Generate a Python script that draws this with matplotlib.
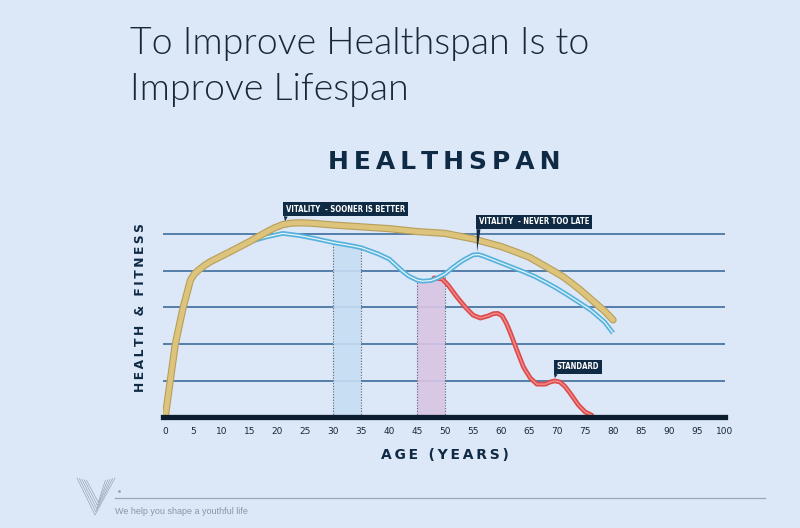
import numpy as np
import matplotlib
matplotlib.use("Agg")
import matplotlib.pyplot as plt

# --- data (age in years, health & fitness level) ---
ages_optimal = [0, 1.8, 3.2, 4.5, 5.2, 6, 7, 8, 11.5, 15, 18, 19.5, 21, 22.5,
                24, 26, 30, 35, 40, 45, 50, 55, 60, 62.5, 65, 68, 71, 72.5,
                74, 75.5, 77, 78.5, 80]
health_optimal = [0, 2.0, 3.0, 3.75, 3.92, 4.03, 4.15, 4.25, 4.52, 4.8, 5.06,
                  5.18, 5.27, 5.31, 5.32, 5.31, 5.26, 5.21, 5.16, 5.08, 5.03,
                  4.88, 4.67, 4.53, 4.38, 4.12, 3.85, 3.68, 3.5, 3.3, 3.1, 2.9,
                  2.66]

ages_vitality = [15, 18, 21, 24, 27, 30, 33, 35, 38, 40, 42.5, 43.5, 45, 46,
                 47.5, 48.5, 50, 51, 52.5, 53.5, 55, 56, 57, 58, 60, 62, 64,
                 66, 68, 70, 72, 74, 76, 77, 78.5, 80]
health_vitality = [4.8, 4.93, 5.03, 4.97, 4.88, 4.78, 4.70, 4.64, 4.47, 4.33,
                   3.98, 3.86, 3.75, 3.72, 3.74, 3.8, 3.92, 4.05, 4.22, 4.32,
                   4.44, 4.45, 4.4, 4.34, 4.22, 4.1, 3.98, 3.85, 3.69, 3.52,
                   3.33, 3.13, 2.93, 2.8, 2.6, 2.3]

ages_standard = [48, 49.5, 50.5, 52.1, 53.6, 55, 56.3, 57.7, 58.6, 59.4, 60.2,
                 60.9, 61.6, 62.8, 64, 65.2, 66.4, 67.9, 68.8, 69.6, 70.5,
                 71.4, 72.3, 73.8, 75, 76.2]
health_standard = [3.81, 3.78, 3.62, 3.29, 3.01, 2.79, 2.71, 2.77, 2.83, 2.84,
                   2.77, 2.58, 2.33, 1.84, 1.37, 1.07, 0.9, 0.9, 0.96, 0.99,
                   0.96, 0.84, 0.66, 0.33, 0.14, 0.05]

x_ticks = list(range(0, 101, 5))
grid_levels = [1, 2, 3, 4, 5]
window_early = (30, 35)
window_late = (45, 50)

NAVY = "#0f2a44"
TEXT = "#18283a"
BG = "#dce8f7"


def spaced(s, sep="\u2009"):
    return sep.join(s)


fig = plt.figure(figsize=(8, 5.28), dpi=100, facecolor=BG)
ax = fig.add_axes([0.20375, 0.2102, 0.7025, 0.401])
ax.set_facecolor("none")
ax.set_xlim(-0.4, 100)
ax.set_ylim(0, 5.8)

# grid
for lvl in grid_levels:
    ax.axhline(lvl, color="#3d6d9c", lw=1.2, zorder=1)

for s in ax.spines.values():
    s.set_visible(False)
ax.axhline(0, color="#0d1d30", lw=3.8, zorder=6, clip_on=False)

ax.set_yticks([])
ax.set_xticks(x_ticks)
ax.tick_params(axis="x", length=0, pad=7, labelsize=6.5, labelcolor=TEXT)

# shaded windows under the vitality curve
ages_v = np.array(ages_vitality)
health_v = np.array(health_vitality)
for (a0, a1), fc in [(window_early, "#c6ddf3"), (window_late, "#d9c5e4")]:
    m = (ages_v >= a0) & (ages_v <= a1)
    ax.fill_between(ages_v[m], 0, health_v[m], facecolor=fc, edgecolor="none",
                    alpha=0.9, zorder=2)
    dot = dict(color="#5a6478", lw=0.8, ls=(0, (1, 1.5)), zorder=3)
    ax.plot([a0, a0], [0, health_v[m][0]], **dot)
    ax.plot([a1, a1], [0, health_v[m][-1]], **dot)
    ax.plot(ages_v[m], health_v[m] - 0.03, **dot)

# curves
ax.plot(ages_standard, health_standard, color="#dd4a4c", lw=3.4,
        solid_capstyle="round", solid_joinstyle="round", zorder=4)
ax.plot(ages_standard, health_standard, color="#f28d8b", lw=1.0,
        solid_joinstyle="round", zorder=4)

ax.plot(ages_vitality, health_vitality, color="#56b2dc", lw=3.4,
        solid_capstyle="butt", solid_joinstyle="round", zorder=4)
ax.plot(ages_vitality, health_vitality, color="#e6f5fb", lw=0.9,
        solid_joinstyle="round", zorder=4)

ax.plot(ages_optimal, health_optimal, color="#b89e5a", lw=5.2,
        solid_capstyle="round", solid_joinstyle="round", zorder=5)
ax.plot(ages_optimal, health_optimal, color="#dcc47c", lw=3.6,
        solid_capstyle="round", solid_joinstyle="round", zorder=5)

# callouts
callouts = [
    ("VITALITY  - SOONER IS BETTER", ages_optimal, health_optimal, 21.4, 21.6, 5.57),
    ("VITALITY  - NEVER TOO LATE", ages_vitality, health_vitality, 55.7, 56.0, 5.22),
    ("STANDARD", ages_standard, health_standard, 69.6, 69.9, 1.25),
]
for label, xs, ys, a_pt, a_txt, y_txt in callouts:
    y_pt = np.interp(a_pt, xs, ys) + 0.08
    ax.annotate(label, xy=(a_pt, y_pt), xytext=(a_txt, y_txt),
                textcoords="data", ha="left", va="bottom", fontsize=5.6,
                fontweight="bold", color="white", fontstretch="condensed",
                bbox=dict(boxstyle="square,pad=0.35", fc=NAVY, ec="none"),
                arrowprops=dict(arrowstyle="wedge,tail_width=0.5,shrink_factor=0.5",
                                fc=NAVY, ec="none", relpos=(0.0, 0.0),
                                shrinkA=0, shrinkB=0),
                annotation_clip=False, zorder=8)

# titles and labels
fig.text(130 / 800, 1 - 27 / 528, "To Improve Healthspan Is to\nImprove Lifespan",
         ha="left", va="top", fontsize=27, color=TEXT, family="Lato",
         weight=300, linespacing=1.45)
fig.text(444 / 800, 1 - 162 / 528, spaced("HEALTHSPAN"), ha="center",
         va="center", fontsize=18, fontweight="bold", color=NAVY)
fig.text(445 / 800, 1 - 455 / 528, spaced("AGE (YEARS)"), ha="center",
         va="center", fontsize=10, fontweight="bold", color=NAVY)
fig.text(141 / 800, 1 - 308 / 528, spaced("HEALTH & FITNESS"), ha="center",
         va="center", rotation=90, fontsize=8.8, fontweight="bold", color=NAVY)

# footer: logo, rule and tagline (pixel coordinates)
ov = fig.add_axes([0, 0, 1, 1], zorder=-1)
ov.set_xlim(0, 800)
ov.set_ylim(528, 0)
ov.axis("off")
ov.plot([115, 765], [498, 498], color="#98a6b6", lw=0.9)
ov.plot([119], [491], marker="o", ms=1, color="#98a6b6")
for k in range(5):
    ov.plot([77 + 2.4 * k, 95 + 0.8 * k, 115 - 2.4 * k],
            [478 + 0.6 * k, 515 - 3.2 * k, 478 + 0.6 * k],
            color="#9aa6b4", lw=0.5)
fig.text(115 / 800, 1 - 512 / 528, "We help you shape a youthful life", ha="left",
         va="center", fontsize=6.5, family="Liberation Sans", color="#8896a6")

fig.savefig("out.png", dpi=100, facecolor=BG)
